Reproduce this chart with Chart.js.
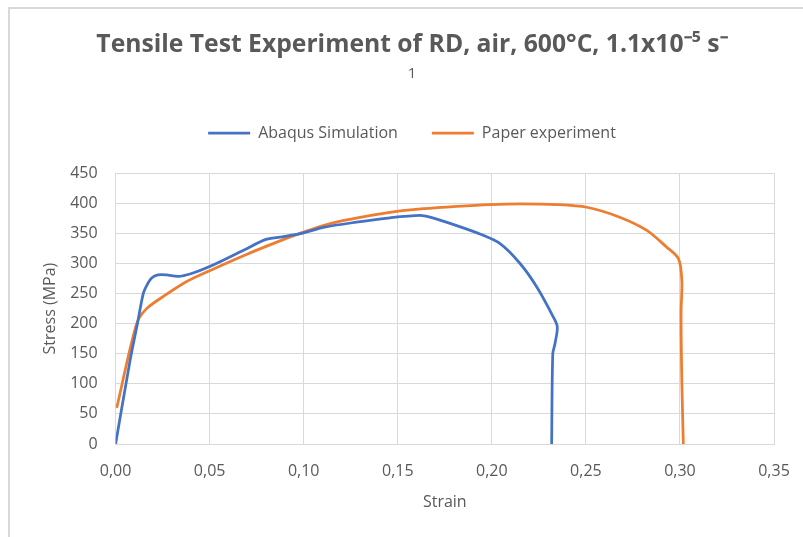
<!DOCTYPE html>
<html>
<head>
<meta charset="utf-8">
<script src="https://cdn.jsdelivr.net/npm/chart.js@4.4.1/dist/chart.umd.min.js"></script>
<style>
  html, body { margin: 0; padding: 0; background: #ffffff; }
  #wrap { position: relative; width: 803px; height: 537px; }
  #frame { position: absolute; left: 8px; top: 7px; right: 0; bottom: 0;
           border-top: 2px solid #d9d9d9; border-left: 2px solid #d9d9d9; pointer-events: none; }
  canvas { position: absolute; left: 0; top: 0; }
</style>
</head>
<body>
<div id="wrap">
  <canvas id="chart" width="803" height="537"></canvas>
  <div id="frame"></div>
</div>
<script>
// Abaqus simulation curve (strain, stress in MPa)
const simStrain = [0, 0.0077, 0.0116, 0.0147, 0.0168, 0.0192, 0.0225, 0.0270, 0.0333, 0.0400, 0.0500, 0.0680, 0.0800, 0.0900, 0.1000, 0.1104, 0.1280, 0.1459, 0.1618, 0.1671, 0.1813, 0.1937, 0.2044, 0.2150, 0.2239, 0.2327, 0.2348, 0.2336, 0.2324, 0.2318];
const simStress = [0, 139, 200, 250, 265, 276, 281, 281, 278.5, 283, 295, 322, 340, 345, 351, 360, 368.7, 376, 380, 377, 363, 349, 333, 300, 261, 211, 194.5, 167, 150, 0];

// Paper experiment curve (strain, stress in MPa)
const expStrain = [0.0006, 0.0112, 0.0165, 0.0272, 0.0378, 0.0500, 0.0680, 0.0857, 0.0980, 0.1104, 0.1190, 0.1280, 0.1459, 0.1636, 0.1813, 0.1990, 0.2150, 0.2345, 0.2505, 0.2680, 0.2824, 0.2930, 0.2992, 0.3010, 0.3006, 0.3010, 0.3018];
const expStress = [60, 200, 225, 249, 270, 288, 313, 335.5, 350, 363, 370, 375.5, 385, 391, 395, 398, 399, 398, 393.5, 377, 355, 327, 308, 272, 217, 106, 0];

// Axis ticks
const xTickValues = [0, 0.05, 0.10, 0.15, 0.20, 0.25, 0.30, 0.35];
const xTickLabels = ['0,00', '0,05', '0,10', '0,15', '0,20', '0,25', '0,30', '0,35'];
const yTickValues = [0, 50, 100, 150, 200, 250, 300, 350, 400, 450];

const seriesNames = ['Abaqus Simulation', 'Paper experiment'];
const seriesColors = ['#4472C4', '#ED7D31'];

const toPoints = (xs, ys) => xs.map((x, i) => ({ x: x, y: ys[i] }));

const textColor = '#595959';
const gridColor = '#d9d9d9';
const family = "'Open Sans', sans-serif";

// Extra room under the legend, before the plot area starts
const legendGap = 22;
const LegendElement = Chart.Legend._element;
const baseLegendFit = LegendElement.prototype.fit;
LegendElement.prototype.fit = function () {
  baseLegendFit.call(this);
  if (this.isHorizontal()) this.height += legendGap;
};

// Move the title, subtitle and legend a little to the right of the default centre
const headerShift = {
  id: 'headerShift',
  afterLayout(chart, args, opts) {
    chart.boxes.forEach((box) => {
      if (box.position === 'top' && !box.axis) {
        box.left += opts.dx;
        box.right += opts.dx;
      }
    });
  }
};

new Chart(document.getElementById('chart'), {
  type: 'scatter',
  plugins: [headerShift],
  data: {
    datasets: [
      {
        label: seriesNames[0],
        data: toPoints(simStrain, simStress),
        showLine: true,
        borderColor: seriesColors[0],
        backgroundColor: seriesColors[0],
        borderWidth: 2.75,
        pointRadius: 0,
        tension: 0.3,
        pointStyle: 'line'
      },
      {
        label: seriesNames[1],
        data: toPoints(expStrain, expStress),
        showLine: true,
        borderColor: seriesColors[1],
        backgroundColor: seriesColors[1],
        borderWidth: 2.75,
        pointRadius: 0,
        tension: 0.3,
        pointStyle: 'line'
      }
    ]
  },
  options: {
    responsive: false,
    animation: false,
    layout: { padding: { left: 10, right: 29, top: 0, bottom: 10 } },
    plugins: {
      headerShift: { dx: 20 },
      title: {
        display: true,
        text: 'Tensile Test Experiment of RD, air, 600°C, 1.1x10⁻⁵ s⁻',
        color: textColor,
        font: { family: family, size: 24.7, weight: 'bold', lineHeight: 1.2 },
        padding: { top: 30.6, bottom: 0 }
      },
      subtitle: {
        display: true,
        text: '1',
        color: textColor,
        font: { family: family, size: 15, weight: 'normal', lineHeight: 1.2 },
        padding: { top: 4.5, bottom: 8.5 }
      },
      legend: {
        display: true,
        position: 'top',
        labels: {
          color: textColor,
          font: { family: family, size: 16 },
          usePointStyle: true,
          pointStyle: 'line',
          pointStyleWidth: 42,
          padding: 34
        }
      },
      tooltip: { enabled: false }
    },
    scales: {
      x: {
        type: 'linear',
        min: 0,
        max: 0.35,
        afterBuildTicks: (scale) => { scale.ticks = xTickValues.map(v => ({ value: v })); },
        afterFit: (scale) => {
          scale.height = 537 - 444 - 10;
          scale.paddingLeft = 0;
          scale.paddingRight = 0;
        },
        ticks: {
          color: textColor,
          font: { family: family, size: 16 },
          padding: 18,
          maxRotation: 0,
          callback: (value, index) => xTickLabels[index]
        },
        grid: { color: gridColor, lineWidth: 1, drawTicks: false },
        border: { color: gridColor, width: 1 },
        title: {
          display: true,
          text: 'Strain',
          color: textColor,
          font: { family: family, size: 16 },
          padding: { top: 8, bottom: 15 }
        }
      },
      y: {
        type: 'linear',
        min: 0,
        max: 450,
        afterBuildTicks: (scale) => { scale.ticks = yTickValues.map(v => ({ value: v })); },
        afterFit: (scale) => { scale.width = 115.6 - 10; },
        ticks: {
          color: textColor,
          font: { family: family, size: 16 },
          padding: 18
        },
        grid: { color: gridColor, lineWidth: 1, drawTicks: false },
        border: { color: gridColor, width: 1 },
        title: {
          display: true,
          text: 'Stress (MPa)',
          color: textColor,
          font: { family: family, size: 16 },
          padding: { top: 31, bottom: 6 }
        }
      }
    }
  }
});
</script>
</body>
</html>
